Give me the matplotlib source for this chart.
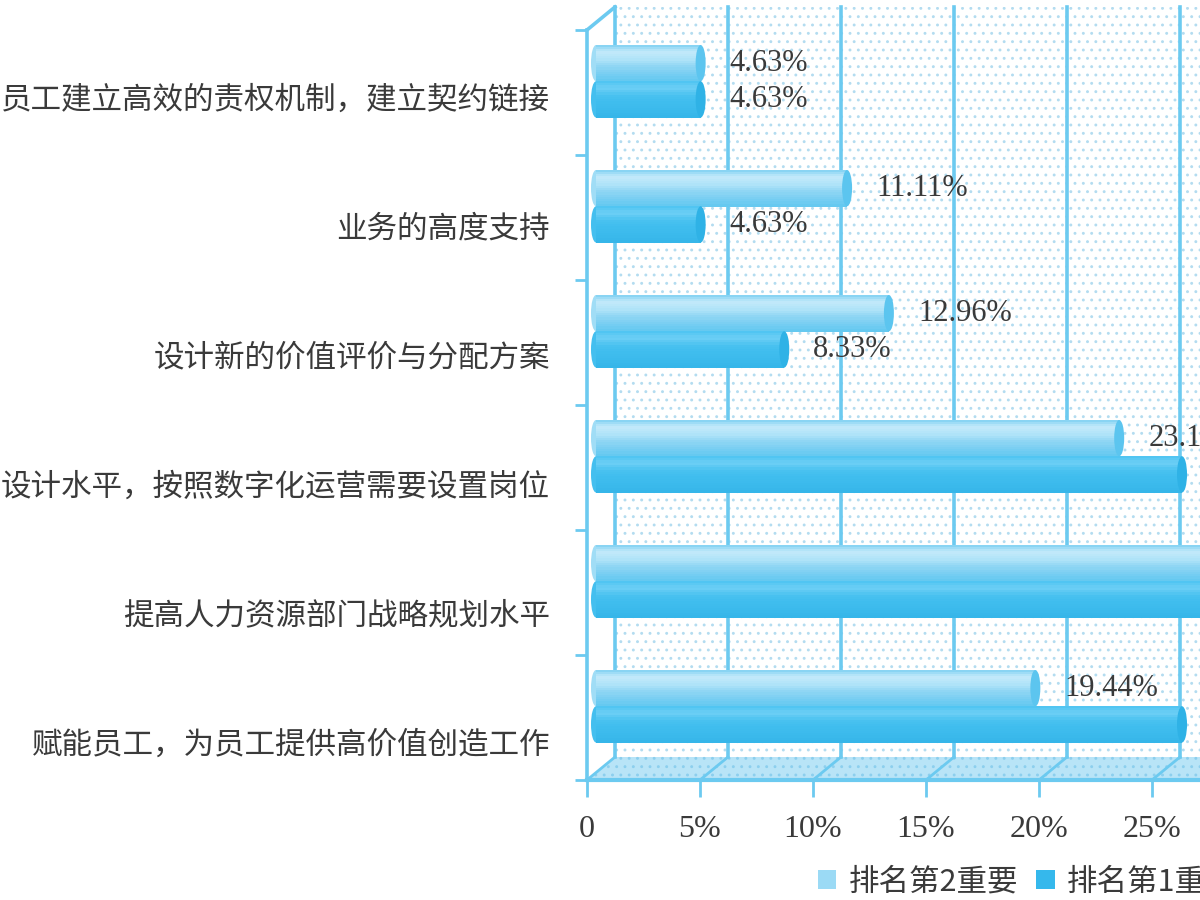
import numpy as np
import matplotlib
matplotlib.use('Agg')
import matplotlib.pyplot as plt
from matplotlib.transforms import ScaledTranslation
from matplotlib.patches import Ellipse, Polygon, Patch
from matplotlib.colors import to_rgb

plt.rcParams['font.family'] = ['Noto Sans CJK SC', 'DejaVu Sans']
plt.rcParams['hatch.linewidth'] = 0.9

# data (percent), top row first
categories = ['员工建立高效的责权机制，建立契约链接',
              '业务的高度支持',
              '设计新的价值评价与分配方案',
              '设计水平，按照数字化运营需要设置岗位',
              '提高人力资源部门战略规划水平',
              '赋能员工，为员工提供高价值创造工作']
rank2 = [4.63, 11.11, 12.96, 23.15, 28.70, 19.44]
rank1 = [4.63, 4.63, 8.33, 25.93, 30.56, 25.93]
xticks = [0, 5, 10, 15, 20, 25, 30, 35]
xticklabels = ['0', '5%', '10%', '15%', '20%', '25%', '30%', '35%']
legend_labels = ['排名第2重要', '排名第1重要']

line_c = '#6ccaf0'
text_c = '#3a3a3a'
serif = ['Liberation Serif', 'DejaVu Serif']

fig = plt.figure(figsize=(12, 9), dpi=100)
# axes runs past the right edge of the figure (the reference is cropped)
ax = fig.add_axes([587 / 1200, 120 / 900, 791 / 1200, 750 / 900])
ax.set_xlim(0, 35)
ax.set_ylim(5.5, -0.5)
for s in ax.spines.values():
    s.set_visible(False)

px_x = 791 / 35.0   # pixels per percent
px_y = 125.0        # pixels per category
dX = 28 / px_x      # depth of the fake 3d box
dY = -23 / px_y

def shift(dx, dy):
    return ax.transData + ScaledTranslation(dx / 100, dy / 100, fig.dpi_scale_trans)

# back wall with dots
wall = Polygon([(dX, -0.5 + dY), (35 + dX, -0.5 + dY), (35 + dX, 5.5 + dY), (dX, 5.5 + dY)],
               facecolor='white', edgecolor='#b3dcf0', hatch='..', lw=0, zorder=0, clip_on=False)
ax.add_patch(wall)
# floor
floor = Polygon([(0, 5.5), (35, 5.5), (35 + dX, 5.5 + dY), (dX, 5.5 + dY)],
                facecolor='#b8e4f7', edgecolor='#8ccfee', hatch='..', lw=0, zorder=1, clip_on=False)
ax.add_patch(floor)

for x in xticks:
    ax.plot([x + dX, x + dX], [-0.5 + dY, 5.5 + dY], color=line_c, lw=2.6, zorder=1, clip_on=False)
    ax.plot([x, x + dX], [5.5, 5.5 + dY], color=line_c, lw=2.0, zorder=1.5, clip_on=False)
ax.plot([0, 0], [-0.5, 5.5], color=line_c, lw=2.6, zorder=2, clip_on=False)
ax.plot([0, dX], [-0.5, -0.5 + dY], color=line_c, lw=2.6, zorder=2, clip_on=False)
ax.plot([0, 35], [5.5, 5.5], color=line_c, lw=3, zorder=2, clip_on=False)

# cylinder-like bars
bx = 9 / px_x
bh = 0.29
up = -0.09
cap = 5 / px_x
stops2 = ['#7fd0f2', '#c2e9fa', '#b0e3f8', '#8fd6f4', '#79cef2', '#63c8f0']
stops1 = ['#4cc3f1', '#6dcff5', '#48c1f0', '#3fbdee', '#3bbaec', '#35b5e8']

def cylinder(vals, yc, stops, capc):
    n = 16
    cols = np.array([to_rgb(c) for c in stops])
    t0 = np.linspace(0, 1, len(stops))
    for k in range(n):
        t = (k + 0.5) / n
        c = [np.interp(t, t0, cols[:, j]) for j in range(3)]
        ax.barh(yc - bh / 2 + (k + 0.5) * bh / n, vals, height=bh / n * 1.3, left=bx,
                color=c, lw=0, zorder=3)
    mid = [np.interp(0.5, t0, cols[:, j]) for j in range(3)]
    for v, y in zip(vals, yc):
        ax.add_patch(Ellipse((bx, y), 2 * cap, bh, color=mid, lw=0, zorder=2.9))
        ax.add_patch(Ellipse((bx + v, y), 2 * cap, bh, color=capc, lw=0, zorder=3.1))

ypos = np.arange(len(categories))
y2 = ypos - bh / 2 + up
y1 = ypos + bh / 2 + up
cylinder(rank2, y2, stops2, '#5cc5ef')
cylinder(rank1, y1, stops1, '#2fb2e6')

for v, y in zip(rank2, y2):
    ax.text(v, y, f'{v:.2f}%', transform=shift(38, 0), ha='left', va='center',
            fontsize=22, family=serif, color=text_c, zorder=4, clip_on=False)
for v, y in zip(rank1, y1):
    ax.text(v, y, f'{v:.2f}%', transform=shift(38, 0), ha='left', va='center',
            fontsize=22, family=serif, color=text_c, zorder=4, clip_on=False)

# category labels
for i, lab in enumerate(categories):
    ax.text(0, i + 0.06 + 0.032 * i, lab, transform=shift(-37, 0), ha='right', va='center',
            fontsize=22, color=text_c, clip_on=False)

ax.set_yticks(np.arange(-0.5, 6, 1))
ax.set_yticklabels([])
ax.tick_params(axis='y', length=9, width=2, color=line_c, direction='out')
ax.set_xticks(xticks)
ax.set_xticklabels(xticklabels, family=serif, fontsize=23, color=text_c)
ax.tick_params(axis='x', length=12, width=2, color=line_c, direction='out', pad=13)

handles = [Patch(facecolor='#9bdaf5', edgecolor='none'), Patch(facecolor='#35b8ec', edgecolor='none')]
fig.legend(handles, legend_labels, loc='center left', bbox_to_anchor=(818 / 1200, 1 - 882 / 900),
           ncol=2, frameon=False, prop={'size': 22}, handlelength=0.6, handleheight=0.6,
           handletextpad=0.4, columnspacing=0.6, borderpad=0, borderaxespad=0,
           labelcolor=text_c)

fig.savefig('out.png', dpi=100)
